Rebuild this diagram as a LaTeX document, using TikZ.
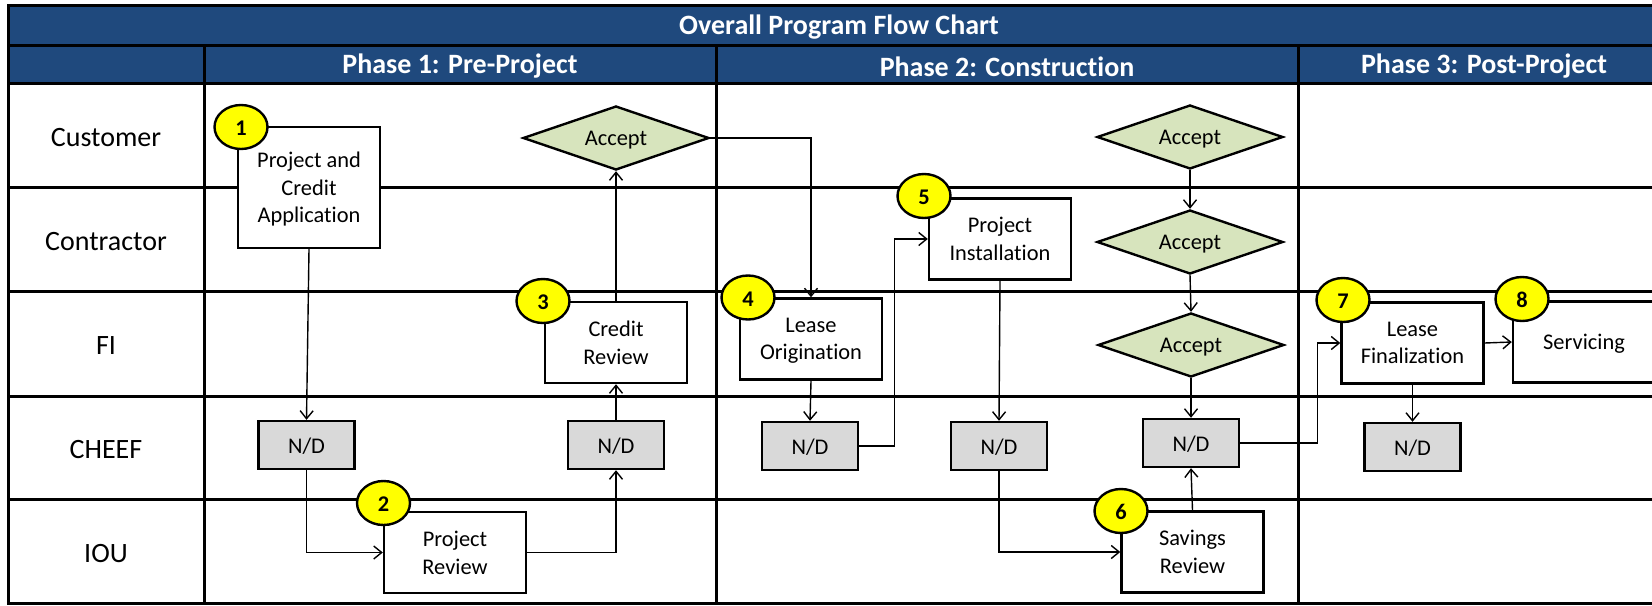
\documentclass[tikz,border=0pt]{standalone}
\usepackage{fontspec}
\setmainfont{Carlito}[Ligatures={NoCommon,NoContextual,NoRare}, Contextuals=NoAlternate]
\usetikzlibrary{arrows.meta,shapes.geometric}
\definecolor{head}{HTML}{1F497D}
\definecolor{decide}{HTML}{D7E4BD}
\definecolor{ndgray}{HTML}{D9D9D9}
\definecolor{badge}{HTML}{FFFF00}
\tikzset{
  lanerule/.style={draw=black, line width=1.5pt},
  task/.style={draw=black, fill=white, line width=1.2pt, minimum width=71pt, minimum height=40.5pt,
    align=center, inner sep=2pt, text depth=0pt, font=\fontsize{11.2}{13.8}\selectfont},
  ndbox/.style={draw=black, fill=ndgray, line width=1.2pt, minimum width=48pt, minimum height=24pt,
    inner sep=1pt, text height=8.2pt, text depth=0pt, font=\fontsize{11.2}{14}\selectfont},
  accept/.style={diamond, draw=black, fill=decide, line width=1.2pt, aspect=2.9, minimum width=93pt,
    minimum height=32pt, inner sep=0pt, text height=7.8pt, text depth=0pt, font=\fontsize{11.2}{14}\selectfont},
  num/.style={ellipse, draw=black, fill=badge, line width=1.2pt, minimum width=26.5pt, minimum height=22pt,
    inner sep=0pt, text height=8.6pt, text depth=0pt, font=\bfseries\fontsize{11.2}{14}\selectfont},
  flow/.style={draw=black, line width=0.7pt, -{Straight Barb[length=4pt,width=6.5pt]}},
  lane/.style={yshift=-1.3pt, font=\fontsize{14}{16}\selectfont},
  phase/.style={yshift=-1pt, text=white, font=\bfseries\fontsize{14}{16}\selectfont}
}

\begin{document}
\begin{tikzpicture}[x=0.5pt, y=-0.5pt]
  \useasboundingbox (0,0) rectangle (1652,605);
  \clip (0,0) rectangle (1652,605);
  \fill[white] (0,0) rectangle (1652,605);

  % table
  \fill[head] (8,5) rectangle (1670,83);
  \draw[lanerule] (8,5) rectangle (1670,603);
  \draw[lanerule] (8,45.5) -- (1670,45.5);
  \foreach \y in {83,187,291,396,499}
    \draw[lanerule] (8,\y) -- (1670,\y);
  \foreach \x in {204,716,1298}
    \draw[lanerule] (\x,45.5) -- (\x,603);

  \node[phase] (title) at (839,25) {Overall Program Flow Chart};
  \node[phase] (phase1) at (460,64.5) {Phase 1: Pre-Project};
  \node[phase] (phase2) at (1007,64.5) {Phase 2: Construction};
  \node[phase] (phase3) at (1484,64.5) {Phase 3: Post-Project};

  \foreach \y/\t/\n in {135/Customer/customer, 239/Contractor/contractor, 343/FI/fi,
                        447/CHEEF/cheef, 551/IOU/iou}
    \node[lane] (\n) at (106,\y) {\t};

  % steps
  \node[task, minimum height=60.5pt] (box1) at (309,187.5) {Project and\\Credit\\Application};
  \node[task] (box2) at (455,552.5) {Project\\Review};
  \node[task] (box3) at (616,342.5) {Credit\\Review};
  \node[task] (box4) at (811,339) {Lease\\Origination};
  \node[task] (box5) at (1000,239) {Project\\Installation};
  \node[task] (box6) at (1192.5,552) {Savings\\Review};
  \node[task] (box7) at (1412.5,343) {Lease\\Finalization};
  \node[task] (box8) at (1584,342) {Servicing};

  \node[accept] (acc1) at (616,138) {Accept};
  \node[accept] (acc2) at (1190,137) {Accept};
  \node[accept] (acc3) at (1190,242) {Accept};
  \node[accept] (acc4) at (1191,345) {Accept};

  \node[ndbox] (nd1) at (306.5,445) {N/D};
  \node[ndbox] (nd2) at (616,445) {N/D};
  \node[ndbox] (nd3) at (810,446) {N/D};
  \node[ndbox] (nd4) at (999,446) {N/D};
  \node[ndbox] (nd5) at (1191,443) {N/D};
  \node[ndbox] (nd6) at (1412.5,447) {N/D};

  % step numbers
  \foreach \i/\x/\y in {1/241/127, 2/383.5/503, 3/543/301, 4/748/297.5,
                        5/924/196, 6/1121/511, 7/1343/300, 8/1522/299}
    \node[num] (num\i) at (\x,\y) {\i};

  % flow
  \draw[flow] (box1.south) -- (nd1.north);
  \draw[flow] (nd1.south) |- (box2.west);
  \draw[flow] (box2.east) -| (nd2.south);
  \draw[flow] (nd2.north) -- (box3.south);
  \draw[flow] (box3.north) -- (acc1.south);
  \draw[flow] (acc1.east) -| (box4.north);
  \draw[flow] (box4.south) -- (nd3.north);
  \draw[flow] (nd3.east) -- ++(35,0) |- (box5.west);
  \draw[flow] (box5.south) -- (nd4.north);
  \draw[flow] (nd4.south) |- (box6.west);
  \draw[flow] (box6.north) -- (nd5.south);
  \draw[flow] (acc2.south) -- (acc3.north);
  \draw[flow] (acc3.south) -- (acc4.north);
  \draw[flow] (acc4.south) -- (nd5.north);
  \draw[flow] (nd5.east) -- ++(77,0) |- (box7.west);
  \draw[flow] (box7.east) -- (box8.west);
  \draw[flow] (box7.south) -- (nd6.north);
\end{tikzpicture}
\end{document}
